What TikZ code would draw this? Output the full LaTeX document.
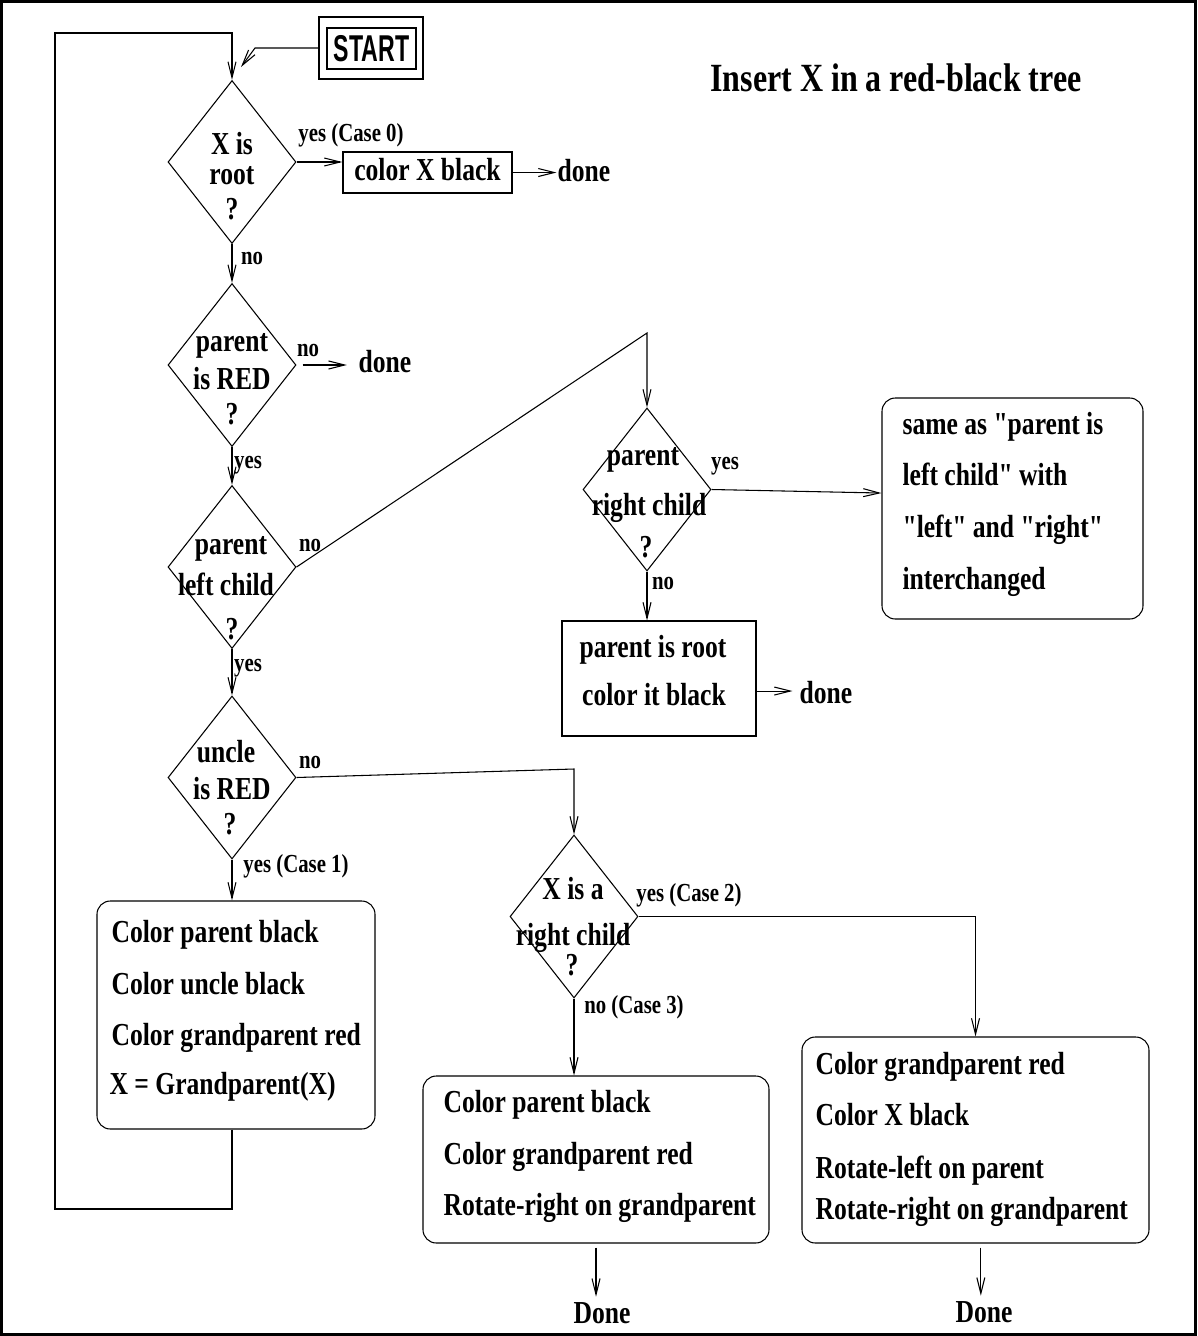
\documentclass[tikz,border=0pt]{standalone}
\usepackage{fontspec}
\usetikzlibrary{arrows.meta,shapes.geometric}
\newfontfamily\figserif{Liberation Serif}[FakeStretch=0.8]
\newfontfamily\figsans{Liberation Sans}[FakeStretch=0.62]
\begin{document}
\begin{tikzpicture}[x=0.75pt,y=-0.75pt,
  line width=0.8pt,
  arr/.style={-{Straight Barb[length=12pt,width=6pt]}},
  txt/.style={inner sep=0pt, font=\figserif\bfseries\fontsize{24pt}{28pt}\selectfont,
              text height=16.3pt, text depth=4.8pt},
  lbl/.style={inner sep=0pt, font=\figserif\bfseries\fontsize{19.5pt}{23pt}\selectfont,
              text height=13.3pt, text depth=3.9pt},
  dia/.style={draw, diamond, inner sep=0pt, minimum width=96pt, minimum height=122.25pt},
  rbox/.style={draw, rounded corners=10pt, inner sep=0pt},
  sbox/.style={draw, inner sep=0pt},
]
\useasboundingbox (0,0) rectangle (1197,1336);
% outer frame
\draw[line width=2.25pt] (1.5,1.5) rectangle (1195.5,1334.5);

% title
\node[inner sep=0pt, font=\figserif\bfseries\fontsize{30pt}{34pt}\selectfont] (title) at (896,78) {Insert X in a red-black tree};

% start
\node[sbox, minimum width=78pt, minimum height=46.5pt] (startout) at (371,48) {};
\node[sbox, minimum width=66.75pt, minimum height=30.75pt,
      font=\figsans\bfseries\fontsize{28pt}{30pt}\selectfont] (start) at (371.5,48.5) {START};
\coordinate (sbend) at (255,48);
\coordinate (stip) at (241,67);

% decisions
\node[dia] (d1) at (232,162) {};
\node[txt] (d1a) at (232,147) {X is};
\node[txt] (d1b) at (232,177) {root};
\node[txt] (d1c) at (232,212) {?};

\node[dia] (d2) at (232,365) {};
\node[txt] (d2a) at (232,344) {parent};
\node[txt] (d2b) at (232,382) {is RED};
\node[txt] (d2c) at (232,417) {?};

\node[dia] (d3) at (232,567) {};
\node[txt] (d3a) at (231,547) {parent};
\node[txt] (d3b) at (226,588) {left child};
\node[txt] (d3c) at (232,632) {?};

\node[dia] (d4) at (647,489.5) {};
\node[txt] (d4a) at (643,458) {parent};
\node[txt] (d4b) at (649,508) {right child};
\node[txt] (d4c) at (646,550) {?};

\node[dia] (d5) at (232,777.5) {};
\node[txt] (d5a) at (226,755) {uncle};
\node[txt] (d5b) at (232,792) {is RED};
\node[txt] (d5c) at (230,827) {?};

\node[dia] (d6) at (574,916.5) {};
\node[txt] (d6a) at (573,892) {X is a};
\node[txt] (d6b) at (573,938) {right child};
\node[txt] (d6c) at (572,968) {?};

% actions
\node[sbox, txt, minimum width=126.75pt, minimum height=30.75pt] (b0) at (427.5,172.5) {color X black};
\node[txt] (done0) at (584,174) {done};
\node[txt] (done1) at (385,365) {done};

\node[rbox, minimum width=195.75pt, minimum height=165.75pt] (rb) at (1012.5,508.5) {};
\node[txt, anchor=west] (rb1) at (902,427) {same as "parent is};
\node[txt, anchor=west] (rb2) at (902,478) {left child" with};
\node[txt, anchor=west] (rb3) at (902,530) {"left" and "right"};
\node[txt, anchor=west] (rb4) at (902,582) {interchanged};

\node[sbox, minimum width=145.5pt, minimum height=86.25pt] (b4) at (659,678.5) {};
\node[txt] (b4a) at (653,650) {parent is root};
\node[txt] (b4b) at (654,698) {color it black};
\node[txt] (done2) at (826,696) {done};

\node[rbox, minimum width=208.5pt, minimum height=171pt] (b1) at (236,1015) {};
\node[txt, anchor=west] (b1a) at (111,935) {Color parent black};
\node[txt, anchor=west] (b1b) at (111,987) {Color uncle black};
\node[txt, anchor=west] (b1c) at (111,1038) {Color grandparent red};
\node[txt, anchor=west] (b1d) at (109,1087) {X = Grandparent(X)};

\node[rbox, minimum width=259.5pt, minimum height=125.25pt] (b2) at (596,1159.5) {};
\node[txt, anchor=west] (b2a) at (443,1105) {Color parent black};
\node[txt, anchor=west] (b2b) at (443,1157) {Color grandparent red};
\node[txt, anchor=west] (b2c) at (443,1208) {Rotate-right on grandparent};
\node[txt] (done3) at (602,1316) {Done};

\node[rbox, minimum width=260.25pt, minimum height=154.5pt] (b3) at (975.5,1140) {};
\node[txt, anchor=west] (b3a) at (815,1067) {Color grandparent red};
\node[txt, anchor=west] (b3b) at (815,1118) {Color X black};
\node[txt, anchor=west] (b3c) at (815,1171) {Rotate-left on parent};
\node[txt, anchor=west] (b3d) at (815,1212) {Rotate-right on grandparent};
\node[txt] (done4) at (984,1315) {Done};

% branch labels
\node[lbl] (l0) at (351,135) {yes (Case 0)};
\node[lbl] (l1) at (252,258) {no};
\node[lbl] (l2) at (308,350) {no};
\node[lbl] (l3) at (248,462) {yes};
\node[lbl] (l4) at (310,545) {no};
\node[lbl] (l5) at (725,463) {yes};
\node[lbl] (l6) at (663,583) {no};
\node[lbl] (l7) at (248,665) {yes};
\node[lbl] (l8) at (310,762) {no};
\node[lbl] (l9) at (296,866) {yes (Case 1)};
\node[lbl] (l10) at (689,895) {yes (Case 2)};
\node[lbl] (l11) at (634,1007) {no (Case 3)};

% bend points
\coordinate (peak) at (647,333);
\coordinate (c5) at (574,769);
\coordinate (lpbot) at (55,1209);
\coordinate (lptop) at (55,33);

% connectors
\draw[arr] (startout.west) -- (sbend) -- (stip);
\draw[arr] (d1.east) -- (d1.east -| b0.west);
\draw[arr, shorten >=0.5pt] (b0.east) -- (b0.east -| done0.west);
\draw[arr] (d1.south) -- (d2.north);
\draw[arr, shorten <=4.5pt, shorten >=8.5pt] (d2.east) -- (done1.west);
\draw[arr] (d2.south) -- (d3.north);
\draw[arr] (d3.east) -- (peak) -- (d4.north);
\draw[arr] (d4.east) -- ([yshift=11.6pt]rb.west);
\draw[arr] (d4.south) -- (d4.south |- b4.north);
\draw[arr, shorten >=5pt] ([yshift=-9.4pt]b4.east) -- ([yshift=-9.4pt]b4.east -| done2.west);
\draw[arr] (d3.south) -- (d5.north);
\draw[arr] (d5.east) -- (c5) -- (d6.north);
\draw[arr] (d5.south) -- (d5.south |- b1.north);
\draw[arr] (b1.south -| d1.south) -- (d1.south |- lpbot) -- (lpbot) -- (lptop)
  -- (lptop -| d1.north) -- (d1.north);
\draw[arr] (d6.south) -- (d6.south |- b2.north);
\draw[arr, shorten <=3pt, shorten >=3.5pt] (b2.south) -- (b2.south |- done3.north);
\draw[arr] (d6.east) -- (d6.east -| b3.north) -- (b3.north);
\draw[arr, shorten <=3pt, shorten >=3.5pt] ([xshift=4pt]b3.south) -- ([xshift=4pt]b3.south |- done4.north);
\end{tikzpicture}
\end{document}
